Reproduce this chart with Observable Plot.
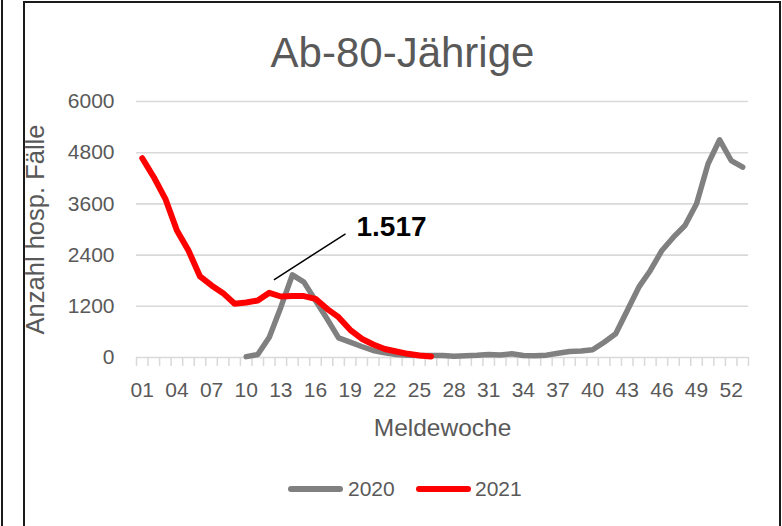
<!DOCTYPE html>
<html>
<head>
<meta charset="utf-8">
<script src="https://cdn.jsdelivr.net/npm/d3@7"></script>
<script src="https://cdn.jsdelivr.net/npm/@observablehq/plot@0.6"></script>
<style>
  html, body { margin: 0; padding: 0; background: #fff; }
  #wrap { position: relative; width: 782px; height: 526px; overflow: hidden; font-family: "Liberation Sans", Arial, sans-serif; }
  #leftline { position: absolute; left: 1px; top: 0; width: 2px; height: 526px; background: #1a1a1a; }
  #frame { position: absolute; left: 23px; top: 1px; width: 758px; height: 600px; border: 2px solid #1a1a1a; box-sizing: border-box; }
  #chart { position: absolute; left: 0; top: 0; }
  .sw { position: absolute; top: 486px; height: 6px; border-radius: 3px; }
  .lt { position: absolute; top: 477px; font-size: 21px; color: #595959; line-height: 24px; }
</style>
</head>
<body>
<div id="wrap">
  <div id="leftline"></div>
  <div id="frame"></div>
  <div id="chart"></div>
</div>
<script>
// ---- data ----
const title = "Ab-80-Jährige";
const yLabel = "Anzahl hosp. Fälle";
const xLabel = "Meldewoche";

const allWeeks = [1,2,3,4,5,6,7,8,9,10,11,12,13,14,15,16,17,18,19,20,21,22,23,24,25,26,27,
  28,29,30,31,32,33,34,35,36,37,38,39,40,41,42,43,44,45,46,47,48,49,50,51,52,53];

const weeks2020 = [10,11,12,13,14,15,16,17,18,19,20,21,22,23,24,25,26,27,28,29,30,31,
  32,33,34,35,36,37,38,39,40,41,42,43,44,45,46,47,48,49,50,51,52,53];
const cases2020 = [20, 70, 476, 1180, 1938, 1766, 1336, 907, 461, 359, 258, 164, 109, 70,
  55, 47, 47, 47, 30, 40, 50, 70, 60, 86, 47, 40, 55, 101, 140, 150, 180, 359, 555, 1102,
  1648, 2040, 2508, 2820, 3094, 3602, 4540, 5102, 4617, 4460];

const weeks2021 = [1,2,3,4,5,6,7,8,9,10,11,12,13,14,15,16,17,18,19,20,21,22,23,24,25,26];
const cases2021 = [4670, 4226, 3719, 2977, 2508, 1899, 1688, 1508, 1258, 1289, 1336, 1517,
  1430, 1440, 1440, 1375, 1141, 945, 650, 440, 305, 200, 141, 86, 47, 23];

const yTicks = [0, 1200, 2400, 3600, 4800, 6000];
const yTickLabels = ["0", "1200", "2400", "3600", "4800", "6000"];
const xTickWeeks = [1, 4, 7, 10, 13, 16, 19, 22, 25, 28, 31, 34, 37, 40, 43, 46, 49, 52];
const xTickLabels = ["01","04","07","10","13","16","19","22","25","28","31","34","37","40","43","46","49","52"];

const seriesNames = ["2020", "2021"];
const seriesColors = ["#808080", "#ff0000"];

// callout: label for 2021 week 12
const callout = [{label: "1.517", fromWeek: 12.4, fromValue: 1820, toWeek: 18.6, toValue: 2900, textWeek: 19.55, textValue: 3047}];

// ---- build ----
const d2020 = weeks2020.map((w, i) => ({week: w, value: cases2020[i]}));
const d2021 = weeks2021.map((w, i) => ({week: w, value: cases2021[i]}));
const boundaries = allWeeks.map(w => w - 0.5).concat([allWeeks[allWeeks.length - 1] + 0.5]);
const xLabelOf = new Map(xTickWeeks.map((w, i) => [w, xTickLabels[i]]));
const yLabelOf = new Map(yTicks.map((v, i) => [v, yTickLabels[i]]));

const chart = Plot.plot({
  width: 782,
  height: 526,
  marginTop: 101,
  marginBottom: 169,
  marginLeft: 136,
  marginRight: 34,
  style: {fontFamily: "Liberation Sans, Arial, sans-serif", background: "transparent", color: "#595959", overflow: "visible"},
  x: {type: "linear", domain: [boundaries[0], boundaries[boundaries.length - 1]]},
  y: {domain: [0, 6000]},
  marks: [
    Plot.gridY(yTicks, {stroke: "#d9d9d9", strokeOpacity: 1, strokeWidth: 1.6}),
    Plot.axisY(yTicks, {tickSize: 0, tickPadding: 22, tickFormat: d => yLabelOf.get(d), fontSize: 21, fill: "#595959", label: null}),
    Plot.axisX(boundaries, {tickSize: 9, tickPadding: 0, stroke: "#d9d9d9", strokeWidth: 1.5, strokeOpacity: 1, tickFormat: () => "", label: null}),
    Plot.axisX(xTickWeeks, {tickSize: 0, tickPadding: 25, tickFormat: d => xLabelOf.get(d), fontSize: 21, fill: "#595959", label: null}),
    Plot.text([title], {text: d => d, frameAnchor: "top", textAnchor: "middle", lineAnchor: "middle", dx: -40, dy: -48, fontSize: 42, fill: "#595959"}),
    Plot.text([yLabel], {text: d => d, frameAnchor: "left", textAnchor: "middle", lineAnchor: "middle", rotate: -90, dx: -101, fontSize: 25.5, fill: "#595959"}),
    Plot.text([xLabel], {text: d => d, frameAnchor: "bottom", textAnchor: "middle", lineAnchor: "middle", dy: 71, fontSize: 24.5, fill: "#595959"}),
    Plot.line(d2020, {x: "week", y: "value", stroke: seriesColors[0], strokeWidth: 5.5, strokeLinejoin: "round", strokeLinecap: "round"}),
    Plot.line(d2021, {x: "week", y: "value", stroke: seriesColors[1], strokeWidth: 6, strokeLinejoin: "round", strokeLinecap: "round"}),
    Plot.link(callout, {x1: "fromWeek", y1: "fromValue", x2: "toWeek", y2: "toValue", stroke: "#000", strokeWidth: 1.5}),
    Plot.text(callout, {x: "textWeek", y: "textValue", text: "label", textAnchor: "start", lineAnchor: "middle", fontSize: 28, fontWeight: "bold", fill: "#000"})
  ]
});
document.getElementById("chart").appendChild(chart);

// legend (HTML)
const wrap = document.getElementById("wrap");
const legendPos = [{sw: 288, txt: 348}, {sw: 416, txt: 475}];
seriesNames.forEach((name, i) => {
  const sw = document.createElement("div");
  sw.className = "sw";
  sw.style.left = legendPos[i].sw + "px";
  sw.style.width = "55px";
  sw.style.background = seriesColors[i];
  wrap.appendChild(sw);
  const t = document.createElement("div");
  t.className = "lt";
  t.style.left = legendPos[i].txt + "px";
  t.textContent = name;
  wrap.appendChild(t);
});
</script>
</body>
</html>
